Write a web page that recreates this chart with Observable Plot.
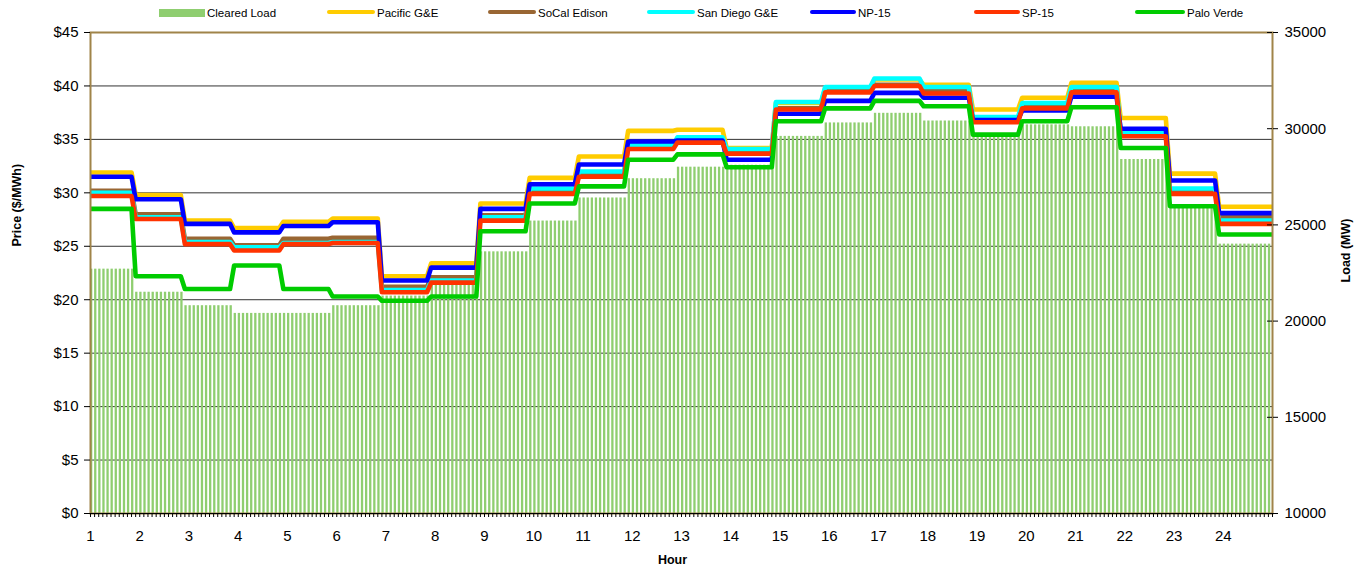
<!DOCTYPE html>
<html><head><meta charset="utf-8">
<script src="https://cdn.jsdelivr.net/npm/d3@7"></script>
<script src="https://cdn.jsdelivr.net/npm/@observablehq/plot@0.6"></script>
<style>
body{margin:0;background:#fff;font-family:"Liberation Sans",Arial,sans-serif;}
#legend{position:relative;height:16px;width:1364px;font-size:11.5px;color:#000;overflow:visible;z-index:2;}
.sw{position:absolute;}
.lab{position:absolute;top:6px;white-space:nowrap;line-height:14px;}
</style></head><body>
<div id="legend"></div>
<div id="chart"></div>
<script>
// ---- data (hour-ending 1..24) ----
const hours = [1,2,3,4,5,6,7,8,9,10,11,12,13,14,15,16,17,18,19,20,21,22,23,24];
const clearedLoad = [22700,21500,20800,20400,20400,20800,21300,21900,23600,25200,26400,27400,28000,28100,29600,30300,30800,30400,29700,30200,30100,28400,25900,24000];
const pacificGE  = [31.9,29.8,27.4,26.7,27.3,27.6,22.2,23.4,29.0,31.4,33.4,35.8,35.9,34.2,38.4,39.8,40.6,40.1,37.8,38.9,40.3,37.0,31.8,28.7];
const socalEdison= [30.2,28.0,25.7,25.1,25.7,25.8,21.2,22.1,27.9,30.1,31.7,34.3,34.8,33.8,37.9,39.5,40.1,39.6,36.8,38.1,39.6,35.5,30.2,27.7];
const sanDiegoGE = [30.0,27.7,25.4,24.9,25.3,25.4,20.9,21.8,27.7,30.4,32.0,34.5,35.2,34.1,38.5,39.9,40.7,39.9,37.1,38.4,39.9,35.7,30.4,27.4];
const np15       = [31.5,29.4,27.1,26.3,26.9,27.25,21.8,23.0,28.5,30.8,32.65,34.8,34.9,33.1,37.4,38.6,39.35,38.9,36.8,37.7,39.0,36.0,31.15,28.1];
const sp15       = [29.7,27.55,25.2,24.6,25.2,25.3,20.7,21.6,27.4,29.9,31.5,34.1,34.7,33.65,37.8,39.4,40.0,39.3,36.6,37.9,39.4,35.3,29.9,27.1];
const paloVerde  = [28.5,22.2,21.0,23.2,21.0,20.3,19.9,20.3,26.4,29.0,30.6,33.1,33.6,32.4,36.7,37.9,38.6,38.1,35.45,36.7,38.0,34.2,28.75,26.1];
const priceTicks = [0,5,10,15,20,25,30,35,40,45];
const loadTicks  = [10000,15000,20000,25000,30000,35000];
const seriesNames = ["Pacific G&E","SoCal Edison","San Diego G&E","NP-15","SP-15","Palo Verde"];
const seriesColors = ["#FFCC00","#996633","#00FFFF","#0000FF","#FF3300","#00CC00"];
const seriesValues = [pacificGE, socalEdison, sanDiegoGE, np15, sp15, paloVerde];
const loadColor = "#8fce70";

// ---- structure: 12 five-minute intervals per hour ----
const perHour = 12;
const nIntervals = hours.length * perHour;
const hourIndex = i => Math.min(hours.length - 1, Math.floor((i + 1) / perHour));
const loadToPrice = d3.scaleLinear([10000, 35000], [0, 45]);

const barData = d3.range(nIntervals).map(i => ({x1: i, x2: i + 0.56, load: clearedLoad[hourIndex(i)]}));
const linePts = d3.range(nIntervals + 1).map(i => ({i, h: hourIndex(i)}));

// ---- legend ----
const legend = document.getElementById("legend");
const legendPos = [[159,207],[327,377],[488,538],[647,697],[810,858],[974,1022],[1135,1187]];
const legendItems = [{name:"Cleared Load", color: loadColor, rect:true}]
  .concat(seriesNames.map((n,k)=>({name:n,color:seriesColors[k]})));
legendItems.forEach((it,k)=>{
  const sw = document.createElement("div");
  sw.className = "sw";
  sw.style.left = legendPos[k][0] + "px";
  sw.style.width = (legendPos[k][1] - legendPos[k][0] - 2) + "px";
  if (it.rect) { sw.style.top = "9px"; sw.style.height = "8px"; }
  else { sw.style.top = "10px"; sw.style.height = "4px"; sw.style.borderRadius = "2px"; }
  sw.style.background = it.color;
  legend.appendChild(sw);
  const lb = document.createElement("div");
  lb.className = "lab";
  lb.style.left = legendPos[k][1] + "px";
  lb.textContent = it.name;
  legend.appendChild(lb);
});

// ---- chart ----
const lineMarks = seriesValues.map((vals,k) =>
  Plot.line(linePts, {x: "i", y: d => vals[d.h], stroke: seriesColors[k], strokeWidth: 4.6, strokeLinejoin: "round", strokeLinecap: "butt"})
);

const chart = Plot.plot({
  width: 1364, height: 558,
  marginLeft: 90, marginRight: 92, marginTop: 16, marginBottom: 61,
  x: {domain: [0, nIntervals]},
  y: {domain: [0, 45]},
  style: {fontFamily: "'Liberation Sans', Arial, sans-serif", fontSize: "15px", background: "transparent", color: "#000"},
  marks: [
    Plot.ruleY(priceTicks.slice(1), {stroke: "#333", strokeWidth: 1}),
    Plot.rectY(barData, {x1: "x1", x2: "x2", y1: 0, y2: d => loadToPrice(d.load), fill: loadColor}),
    ...lineMarks,
    Plot.frame({stroke: "#a08449", strokeWidth: 2}),
    Plot.ruleY([0], {stroke: "#000", strokeWidth: 1.2}),
    Plot.axisY(priceTicks, {anchor: "left", tickSize: 6, tickPadding: 6, tickFormat: d => "$" + d, label: null}),
    Plot.axisY(loadTicks.map(v => loadToPrice(v)), {anchor: "right", tickSize: 5, tickPadding: 7, tickFormat: d => String(Math.round(loadToPrice.invert(d))), label: null}),
    Plot.tickY(loadTicks.map(v => loadToPrice(v)), {y: d => d, stroke: "#000", insetLeft: 1177}),
    Plot.axisX(hours.map(h => (h - 1) * perHour), {anchor: "bottom", tickSize: 0, tickPadding: 17, tickFormat: d => String(d / perHour + 1), label: null}),
    Plot.axisX(d3.range(nIntervals + 1), {anchor: "bottom", tickSize: 4, tickFormat: () => "", label: null}),
    Plot.text(["Price ($/MWh)"], {frameAnchor: "left", dx: -74, dy: -26.5, rotate: -90, fontWeight: "bold", fontSize: 12.5}),
    Plot.text(["Load (MW)"], {frameAnchor: "right", dx: 73, dy: -54.5, rotate: -90, fontWeight: "bold", fontSize: 12.5}),
    Plot.text(["Hour"], {frameAnchor: "bottom", dx: -9, dy: 50, fontWeight: "bold", fontSize: 12.5})
  ]
});
document.getElementById("chart").appendChild(chart);
</script>
</body></html>
